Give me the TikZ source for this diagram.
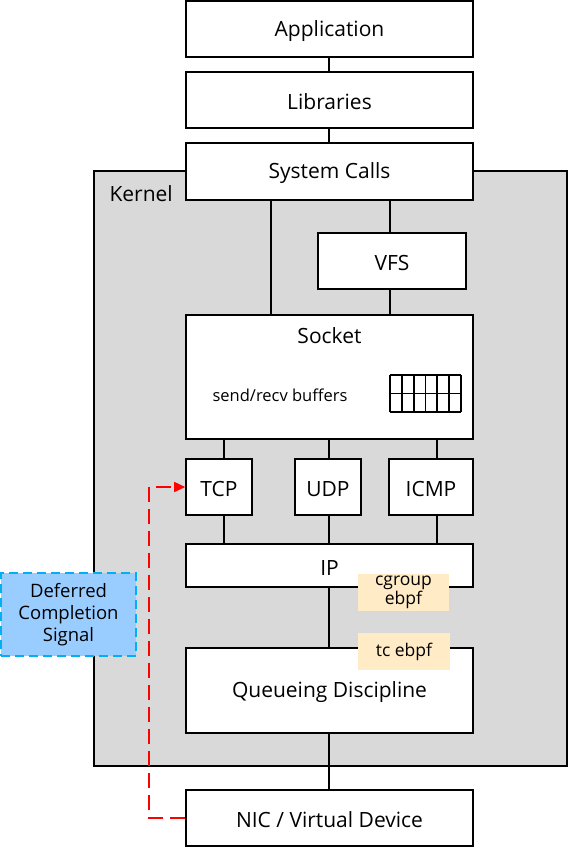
\documentclass[tikz,border=0pt]{standalone}
\usepackage{fontspec}
\setmainfont{Open Sans}
\usetikzlibrary{arrows.meta}
\begin{document}
\begin{tikzpicture}[x=1pt,y=-1pt,
  box/.style={draw=black,fill=white,line width=1.6pt,inner sep=0pt},
  conn/.style={draw=black,line width=1.6pt},
  lbl/.style={font=\fontsize{21}{24}\selectfont,yshift=-2pt},
  tag/.style={inner sep=0pt,align=center,font=\fontsize{17.5}{19}\selectfont},
]
\useasboundingbox (0,0) rectangle (568,847);
\definecolor{kgrey}{HTML}{D9D9D9}
\definecolor{tagc}{HTML}{FFEBC6}
\definecolor{sigfill}{HTML}{99CCFF}
\definecolor{sigdraw}{HTML}{00B0F0}
% kernel
\draw[fill=kgrey,line width=1.6pt] (94,171) rectangle (567,766);
\node[anchor=west,lbl] (kernel) at (106,192) {Kernel};
% connectors (drawn under boxes)
\draw[conn] (329,29) -- (329,100);
\draw[conn] (329,100) -- (329,171);
\draw[conn] (271,200) -- (271,315);
\draw[conn] (390,200) -- (390,233);
\draw[conn] (390,289) -- (390,315);
\draw[conn] (224,439) -- (224,459);
\draw[conn] (329,439) -- (329,459);
\draw[conn] (437,439) -- (437,459);
\draw[conn] (224,515) -- (224,544);
\draw[conn] (329,515) -- (329,544);
\draw[conn] (437,515) -- (437,544);
\draw[conn] (329,587) -- (329,648);
\draw[conn] (329,733) -- (329,790);
% boxes
\node[box,minimum width=287,minimum height=56] (app) at (329.5,29) {};
\node[lbl] at (app) {Application};
\node[box,minimum width=287,minimum height=56] (lib) at (329.5,100) {};
\node[lbl] at (lib) {Libraries};
\node[box,minimum width=287,minimum height=57] (sys) at (329.5,171.5) {};
\node[lbl] at (sys) {System Calls};
\node[box,minimum width=148,minimum height=56] (vfs) at (392,261) {};
\node[lbl] at (vfs) {VFS};
\node[box,minimum width=287,minimum height=124] (sock) at (329.5,377) {};
\node[lbl] at (329.5,334) {Socket};
\node[font=\fontsize{16.5}{18}\selectfont,yshift=-1pt] (buf) at (280,394) {send/recv buffers};
\node[box,minimum width=66,minimum height=56] (tcp) at (219,487) {};
\node[lbl] at (tcp) {TCP};
\node[box,minimum width=66,minimum height=56] (udp) at (328,487) {};
\node[lbl] at (udp) {UDP};
\node[box,minimum width=84,minimum height=56] (icmp) at (431,487) {};
\node[lbl] at (icmp) {ICMP};
\node[box,minimum width=287,minimum height=43] (ip) at (329.5,565.5) {};
\node[lbl] at (ip) {IP};
\node[box,minimum width=287,minimum height=85] (qd) at (329.5,690.5) {};
\node[lbl] at (329.5,690.5) {Queueing Discipline};
\node[box,minimum width=287,minimum height=56] (nic) at (329.5,818) {};
\node[lbl] at (nic) {NIC / Virtual Device};
% tags
\node[tag,fill=tagc,minimum width=91,minimum height=37] (cg) at (403.5,592) {cgroup\\ebpf};
\node[tag,fill=tagc,minimum width=92,minimum height=37] (tc) at (404,651.5) {tc ebpf};
% grid
\foreach \i in {0,...,6} \draw[line width=1.8pt] ({390+\i*71/6},375) -- ({390+\i*71/6},412);
\foreach \j in {0,1,2} \draw[line width=1.8pt] (390,{375+\j*18.5}) -- (461,{375+\j*18.5});
% deferred
\node[draw=sigdraw,fill=sigfill,dash pattern=on 9pt off 5pt,line width=1.6pt,minimum width=135,minimum height=83,align=center,inner sep=0pt,font=\fontsize{18.5}{22}\selectfont] (sig) at (68.5,614.5) {Deferred\\Completion\\Signal};
\coordinate (c1) at (149,818);
\coordinate (c2) at (149,487);
\draw[red,line width=1.6pt,dash pattern=on 15pt off 7pt,-{Triangle[length=11pt,width=10pt,sep=0pt]}] (nic.west) -- (c1) -- (c2) -- (tcp.west);
\end{tikzpicture}
\end{document}
